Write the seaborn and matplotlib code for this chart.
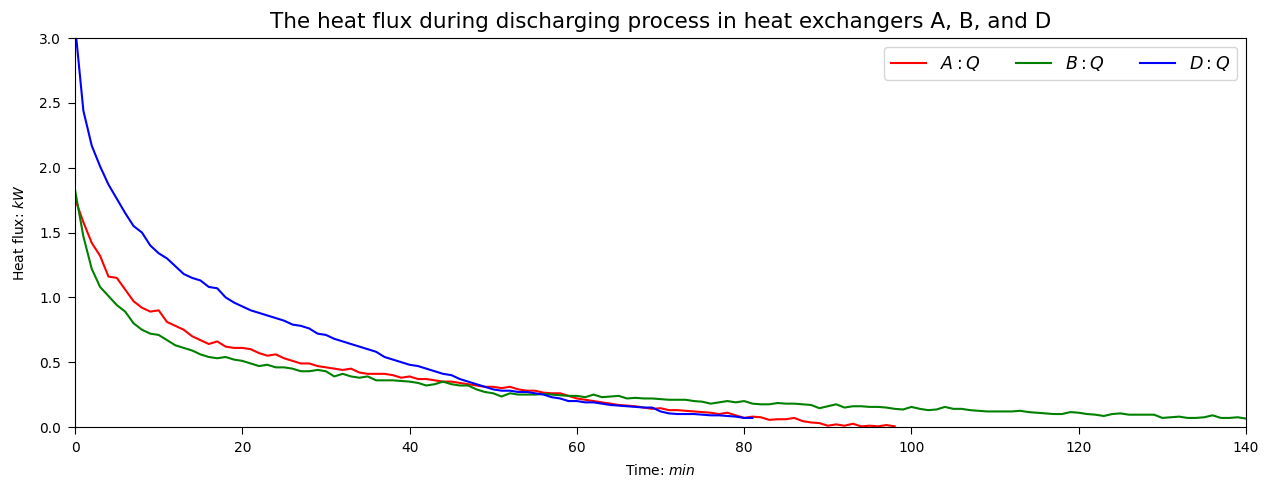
import matplotlib
matplotlib.use("Agg")
import matplotlib.pyplot as plt
import numpy as np
import pandas as pd
import seaborn as sns

# Heat flux (kW) sampled every minute
time_A = list(range(0, 99))
flux_A = [1.76, 1.58, 1.42, 1.32, 1.16, 1.15, 1.06, 0.97, 0.92, 0.89,
          0.90, 0.81, 0.78, 0.75, 0.70, 0.67, 0.64, 0.66, 0.62, 0.61,
          0.61, 0.60, 0.57, 0.55, 0.56, 0.53, 0.51, 0.49, 0.49, 0.47,
          0.46, 0.45, 0.44, 0.45, 0.42, 0.41, 0.41, 0.41, 0.40, 0.38,
          0.39, 0.37, 0.37, 0.36, 0.35, 0.35, 0.34, 0.33, 0.32, 0.31,
          0.31, 0.30, 0.31, 0.29, 0.28, 0.28, 0.265, 0.26, 0.26, 0.24,
          0.22, 0.21, 0.20, 0.19, 0.18, 0.17, 0.165, 0.16, 0.15, 0.14,
          0.145, 0.13, 0.13, 0.125, 0.12, 0.115, 0.11, 0.10, 0.11, 0.09,
          0.07, 0.08, 0.075, 0.055, 0.06, 0.06, 0.07, 0.045, 0.035, 0.03,
          0.01, 0.02, 0.01, 0.025, 0.005, 0.01, 0.005, 0.015, 0.005]

time_B = list(range(0, 141))
flux_B = [1.83, 1.47, 1.22, 1.08, 1.01, 0.94, 0.89, 0.80, 0.75, 0.72,
          0.71, 0.67, 0.63, 0.61, 0.59, 0.56, 0.54, 0.53, 0.54, 0.52,
          0.51, 0.49, 0.47, 0.48, 0.46, 0.46, 0.45, 0.43, 0.43, 0.44,
          0.43, 0.39, 0.41, 0.39, 0.38, 0.39, 0.36, 0.36, 0.36, 0.355,
          0.35, 0.34, 0.32, 0.33, 0.35, 0.33, 0.32, 0.32, 0.29, 0.27,
          0.26, 0.235, 0.26, 0.25, 0.25, 0.25, 0.255, 0.25, 0.245, 0.24,
          0.24, 0.23, 0.25, 0.23, 0.235, 0.24, 0.22, 0.225, 0.22, 0.22,
          0.215, 0.21, 0.21, 0.21, 0.20, 0.195, 0.18, 0.19, 0.20, 0.19,
          0.20, 0.18, 0.175, 0.175, 0.185, 0.18, 0.18, 0.175, 0.17, 0.145,
          0.16, 0.175, 0.15, 0.16, 0.16, 0.155, 0.155, 0.15, 0.14, 0.135,
          0.155, 0.14, 0.13, 0.135, 0.155, 0.14, 0.14, 0.13, 0.125, 0.12,
          0.12, 0.12, 0.12, 0.125, 0.115, 0.11, 0.105, 0.10, 0.10, 0.115,
          0.11, 0.10, 0.095, 0.085, 0.10, 0.105, 0.095, 0.095, 0.095, 0.095,
          0.07, 0.075, 0.08, 0.07, 0.07, 0.075, 0.09, 0.07, 0.07, 0.075,
          0.065]

time_D = list(range(0, 82))
flux_D = [3.10, 2.44, 2.17, 2.01, 1.87, 1.76, 1.65, 1.55, 1.50, 1.40,
          1.34, 1.30, 1.24, 1.18, 1.15, 1.13, 1.08, 1.07, 1.00, 0.96,
          0.93, 0.90, 0.88, 0.86, 0.84, 0.82, 0.79, 0.78, 0.76, 0.72,
          0.71, 0.68, 0.66, 0.64, 0.62, 0.60, 0.58, 0.54, 0.52, 0.50,
          0.48, 0.47, 0.45, 0.43, 0.41, 0.40, 0.37, 0.35, 0.33, 0.31,
          0.29, 0.28, 0.28, 0.27, 0.27, 0.26, 0.25, 0.23, 0.22, 0.20,
          0.20, 0.19, 0.19, 0.18, 0.17, 0.165, 0.16, 0.155, 0.15, 0.15,
          0.12, 0.105, 0.10, 0.10, 0.10, 0.095, 0.09, 0.09, 0.085, 0.08,
          0.07, 0.07]

labels = ["$A:Q$", "$B:Q$", "$D:Q$"]
colors = ["red", "green", "blue"]

df = pd.concat([
    pd.DataFrame({"time": time_A, "flux": flux_A, "series": labels[0]}),
    pd.DataFrame({"time": time_B, "flux": flux_B, "series": labels[1]}),
    pd.DataFrame({"time": time_D, "flux": flux_D, "series": labels[2]}),
], ignore_index=True)

fig = plt.figure(figsize=(12.72, 4.86), dpi=100)
ax = fig.add_axes([75 / 1272, 1 - 427 / 486, (1246 - 75) / 1272, (427 - 38) / 486])

sns.lineplot(data=df, x="time", y="flux", hue="series", hue_order=labels,
             palette=dict(zip(labels, colors)), linewidth=1.5, ax=ax,
             estimator=None, sort=False)

ax.set_xlim(0, 140)
ax.set_ylim(0, 3.0)
ax.tick_params(axis="both", length=5, pad=5)
ax.set_xlabel("Time: $min$", labelpad=6)
ax.set_ylabel("Heat flux: $kW$", labelpad=9)
ax.set_title("The heat flux during discharging process in heat exchangers A, B, and D",
             fontsize=15.5, pad=7)
ax.legend(ncol=3, loc="upper right", title=None, fontsize=12.6)

fig.savefig("out.png", dpi=100)
